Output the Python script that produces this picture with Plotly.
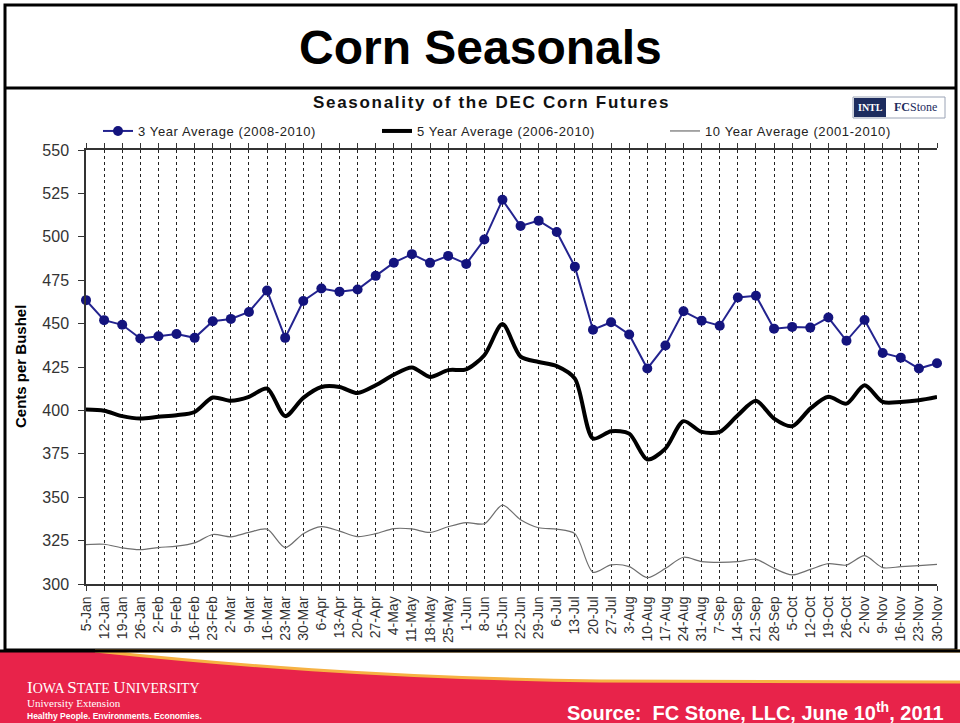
import plotly.graph_objects as go

weeks = ["5-Jan", "12-Jan", "19-Jan", "26-Jan", "2-Feb", "9-Feb", "16-Feb", "23-Feb",
         "2-Mar", "9-Mar", "16-Mar", "23-Mar", "30-Mar", "6-Apr", "13-Apr", "20-Apr",
         "27-Apr", "4-May", "11-May", "18-May", "25-May", "1-Jun", "8-Jun", "15-Jun",
         "22-Jun", "29-Jun", "6-Jul", "13-Jul", "20-Jul", "27-Jul", "3-Aug", "10-Aug",
         "17-Aug", "24-Aug", "31-Aug", "7-Sep", "14-Sep", "21-Sep", "28-Sep", "5-Oct",
         "12-Oct", "19-Oct", "26-Oct", "2-Nov", "9-Nov", "16-Nov", "23-Nov", "30-Nov"]

avg_3yr = [463.5, 452, 449.3, 441.4, 442.7, 444, 441.8, 451.4, 452.7, 456.7, 469, 441.8,
           463, 470.2, 468.4, 469.6, 477.5, 485.1, 490, 485, 489, 484.4, 498.4, 521.3,
           506.2, 509.3, 502.8, 482.8, 446.5, 450.8, 443.7, 424.1, 437.4, 457.1, 451.7, 448.8,
           465, 466, 447.1, 448.1, 447.7, 453.5, 440.1, 452.1, 433.1, 430.4, 424.1, 427.2]

avg_5yr = [400.5, 399.8, 396.7, 395.3, 396.3, 397.2, 399.1, 407.4, 405.5, 407.8, 412.6, 396.7,
           407.2, 413.5, 413.5, 410, 414.5, 420.5, 424.7, 419.3, 423.2, 423.7, 431.8, 449.7,
           431, 427.9, 425.5, 418.3, 383.8, 388, 386.6, 371.7, 378, 393.8, 387.6, 387.6,
           397.2, 405.5, 395.3, 390.9, 401, 407.8, 403.9, 414.5, 404.9, 404.9, 405.9, 407.8]

avg_10yr = [322.7, 322.9, 320.8, 319.8, 321, 321.8, 323.7, 328.5, 327.2, 329.7, 331.6, 321,
            329, 333, 330.5, 327.3, 329, 331.9, 331.7, 329.7, 333, 335.4, 334.7, 345.4,
            337, 332.4, 331.6, 329, 306.8, 311, 310, 303.7, 309, 315.4, 312.9, 312.5,
            312.9, 314.2, 309, 305.2, 308.4, 311.7, 310.9, 316.3, 309.4, 310, 310.6, 311.3]

W, H = 960, 723
L, R, T, B = 86, 937, 150, 584   # plot area in pixels


def px(x):
    return (x - L) / (R - L)


def py(y):
    return (B - y) / (B - T)


def spaced(txt, sp):
    return f'<span style="letter-spacing:{sp}px">{txt}</span>'


fig = go.Figure()

fig.add_trace(go.Scatter(
    x=weeks, y=avg_3yr,
    mode='lines+markers',
    name=spaced('3 Year Average (2008-2010)', 0.6),
    line=dict(width=2, color='#23238f'),
    marker=dict(size=10, color='#14147e'),
    cliponaxis=False,
    legend='legend'
))

fig.add_trace(go.Scatter(
    x=weeks, y=avg_5yr,
    mode='lines',
    name=spaced('5 Year Average (2006-2010)', 0.6),
    line=dict(width=4, color='black', shape='spline', smoothing=0.8),
    legend='legend2'
))

fig.add_trace(go.Scatter(
    x=weeks, y=avg_10yr,
    mode='lines',
    name=spaced('10 Year Average (2001-2010)', 0.6),
    line=dict(width=1.2, color='#6e6e6e', shape='spline', smoothing=0.8),
    legend='legend3'
))

shapes = [
    # slide border
    dict(type='rect', x0=px(5), x1=px(956), y0=py(650), y1=py(5),
         line=dict(color='black', width=3)),
    # line under the title
    dict(type='line', x0=px(5), x1=px(956), y0=py(88), y1=py(88),
         line=dict(color='black', width=3)),
    # footer band
    dict(type='rect', x0=px(0), x1=px(960), y0=py(723), y1=py(652),
         fillcolor='#e8234a', line=dict(width=0)),
    dict(type='path',
         path=f"M {px(95)} {py(651)} C {px(220)} {py(664)}, {px(380)} {py(678)}, {px(600)} {py(681)} "
              f"L {px(962)} {py(682)} L {px(962)} {py(651)} Z",
         fillcolor='white', line=dict(color='#f6b243', width=3)),
    dict(type='line', x0=px(0), x1=px(960), y0=py(651), y1=py(651),
         line=dict(color='black', width=3)),
    # INTL FCStone logo
    dict(type='rect', x0=px(853), x1=px(945), y0=py(118), y1=py(97),
         fillcolor='white', line=dict(color='#9aa3b5', width=1)),
    dict(type='rect', x0=px(854), x1=px(886), y0=py(117), y1=py(98),
         fillcolor='#1d2c5e', line=dict(width=0)),
]
for s in shapes:
    s['xref'] = 'paper'
    s['yref'] = 'paper'
    s['layer'] = 'above'

annotations = [
    dict(x=px(480), y=py(47), text='<b>Corn Seasonals</b>',
         font=dict(family='Liberation Sans, Arial', size=48, color='black')),
    dict(x=px(491), y=py(102),
         text=spaced('<b>Seasonality of the DEC Corn Futures</b>', 1.7),
         font=dict(family='Liberation Sans, Arial', size=17, color='#111')),
    dict(x=px(870), y=py(107.5), text='<b>INTL</b>',
         font=dict(family='Liberation Serif', size=10, color='white')),
    dict(x=px(915), y=py(107.5), text='<b>FC</b>Stone',
         font=dict(family='Liberation Serif', size=12, color='#1d2c5e')),
    dict(x=px(20), y=py(367), text='<b>Cents per Bushel</b>', textangle=-90,
         font=dict(family='Liberation Sans, Arial', size=15, color='black')),
    dict(x=px(25), y=py(687), xanchor='left',
         text='<span style="font-size:17px">I</span>OWA <span style="font-size:17px">S</span>TATE '
              '<span style="font-size:17px">U</span>NIVERSITY',
         font=dict(family='Liberation Serif', size=14, color='white')),
    dict(x=px(25), y=py(703), xanchor='left', text='University Extension',
         font=dict(family='Liberation Serif', size=11, color='white')),
    dict(x=px(25), y=py(715.5), xanchor='left',
         text='<b>Healthy People. Environments. Economies.</b>',
         font=dict(family='Liberation Sans, Arial', size=8.5, color='white')),
    dict(x=px(946), y=py(711), xanchor='right',
         text='<b>Source:  FC Stone, LLC, June 10<sup>th</sup>, 2011</b>',
         font=dict(family='Liberation Sans, Arial', size=20, color='white')),
]
for a in annotations:
    a['xref'] = 'paper'
    a['yref'] = 'paper'
    a['showarrow'] = False
    a.setdefault('xanchor', 'center')
    a['yanchor'] = 'middle'

fig.update_xaxes(
    type='category',
    range=[0, len(weeks) - 1],
    tickangle=-90,
    tickfont=dict(family='Liberation Sans, Arial', size=14, color='#333'),
    showgrid=True, gridcolor='#222', griddash='dot', gridwidth=1,
    showline=True, linecolor='#333', linewidth=1.5, mirror='ticks',
    ticks='outside', ticklen=5, tickcolor='#333',
    zeroline=False
)

fig.update_yaxes(
    range=[300, 550],
    tickvals=[300, 325, 350, 375, 400, 425, 450, 475, 500, 525, 550],
    tickfont=dict(family='Liberation Sans, Arial', size=16, color='#333'),
    ticklabelstandoff=6,
    showgrid=False,
    showline=True, linecolor='#333', linewidth=1.5,
    ticks='outside', ticklen=6, tickcolor='#333',
    zeroline=False
)

legend_style = dict(
    orientation='h', yanchor='top', xanchor='left', y=py(116),
    font=dict(family='Liberation Sans, Arial', size=13, color='#222'),
    itemwidth=30, bgcolor='rgba(0,0,0,0)'
)

fig.update_layout(
    width=W, height=H,
    margin=dict(l=L, r=W - R, t=T, b=H - B),
    plot_bgcolor='white',
    paper_bgcolor='white',
    showlegend=True,
    legend=dict(legend_style, x=px(98)),
    legend2=dict(legend_style, x=px(377)),
    legend3=dict(legend_style, x=px(665)),
    shapes=shapes,
    annotations=annotations
)

fig.write_html("out.html", config={'displayModeBar': False},
               post_script="document.body.style.margin='0';")
